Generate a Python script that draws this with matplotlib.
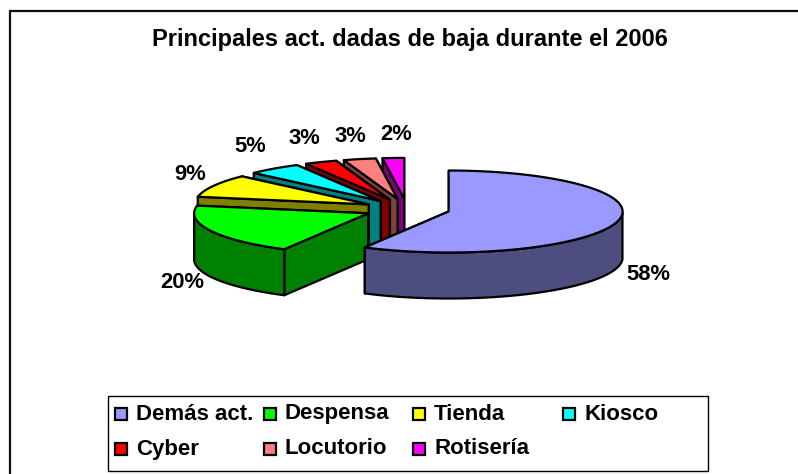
import numpy as np
import matplotlib
matplotlib.use("Agg")
import matplotlib.pyplot as plt
from matplotlib.patches import Polygon, Rectangle

labels = ["Demás act.", "Despensa", "Tienda", "Kiosco", "Cyber", "Locutorio", "Rotisería"]
values = [58, 20, 9, 5, 3, 3, 2]
top_colors = ["#9999FF", "#00FF00", "#FFFF00", "#00FFFF", "#FF0000", "#FF8080", "#FF00FF"]
side_colors = ["#4D4D80", "#008000", "#808000", "#008080", "#800000", "#804040", "#800080"]
pct_pos = [(648, 275), (182, 283), (190, 175), (250, 147), (304, 138), (350, 136), (396, 134)]

# pie geometry, in pixels of the figure
CX, CY = 407, 209
RX, RY = 174, 41
DEPTH = 46
EXPLODE = 0.247

plt.rcParams["font.family"] = ["Liberation Sans", "DejaVu Sans"]
plt.rcParams["font.weight"] = "bold"

fig = plt.figure(figsize=(7.98, 4.74), dpi=100)
ax = fig.add_axes([0, 0, 1, 1])
ax.set_xlim(0, 798)
ax.set_ylim(474, 0)
ax.axis("off")

# chart frame: only top and left fall inside the picture
ax.plot([9.5, 9.5, 798], [474, 10.5, 10.5], color="#111111", lw=1.6, solid_joinstyle="miter")
ax.text(409.5, 39, "Principales act. dadas de baja durante el 2006", fontsize=17,
        ha="center", va="center")


def ell(a):
    return np.sin(a) * RX, -np.cos(a) * RY


edges = np.cumsum([0] + values) / sum(values) * 2 * np.pi

# back slices first, the big one last
for i in range(len(values) - 1, -1, -1):
    a0, a1 = edges[i], edges[i + 1]
    mid = (a0 + a1) / 2
    ox = CX + EXPLODE * np.sin(mid) * RX
    oy = CY - EXPLODE * np.cos(mid) * RY
    t = np.linspace(a0, a1, 80)
    xs, ys = ell(t)
    xs, ys = xs + ox, ys + oy
    kw = dict(ec="black", lw=1.6, joinstyle="round")

    # flat sides, end side first so the start side stays on top
    for x, y in ((xs[-1], ys[-1]), (xs[0], ys[0])):
        ax.add_patch(Polygon([(ox, oy), (x, y), (x, y + DEPTH), (ox, oy + DEPTH)],
                             fc=side_colors[i], **kw))
    # outer wall, only the part that faces the viewer
    front = (t >= np.pi / 2) & (t <= 3 * np.pi / 2)
    if front.any():
        fx, fy = xs[front], ys[front]
        wall = np.r_[np.c_[fx, fy], np.c_[fx, fy + DEPTH][::-1]]
        ax.add_patch(Polygon(wall, fc=side_colors[i], **kw))
    ax.add_patch(Polygon(np.r_[[(ox, oy)], np.c_[xs, ys]], fc=top_colors[i], **kw))

for v, (x, y) in zip(values, pct_pos):
    ax.text(x, y, f"{v}%", fontsize=15.8, ha="center", va="center")

# legend
ax.add_patch(Rectangle((107.5, 395.5), 600, 75, fc="white", ec="black", lw=1))
col_x = [115, 264, 413, 563]
row_y = [414, 449]
for i, name in enumerate(labels):
    x = col_x[i % 4]
    y = row_y[i // 4]
    ax.add_patch(Rectangle((x, y - 6), 12, 12, fc=top_colors[i], ec="black", lw=1.6))
    ax.text(x + 21, y, name, fontsize=16, ha="left", va="center")

fig.savefig("out.png", dpi=100)
